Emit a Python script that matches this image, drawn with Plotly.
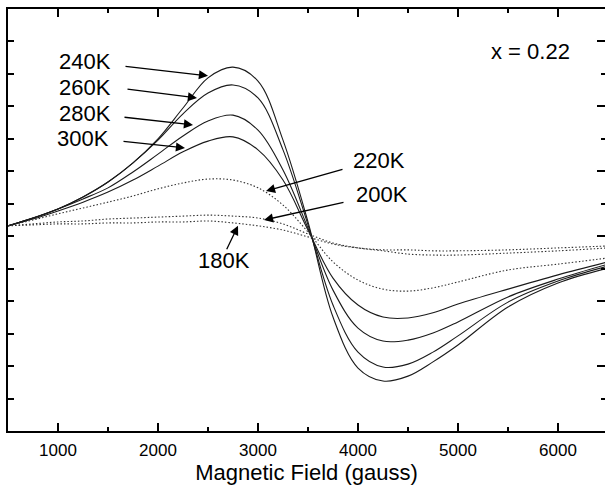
import plotly.graph_objects as go

# Magnetic field (gauss)
field = [500, 750, 1000, 1250, 1500, 1750, 2000, 2250, 2500, 2750, 3000,
         3250, 3500, 3750, 4000, 4250, 4500, 4750, 5000, 5500, 6000, 6500]

# EPR derivative signal (arb. units)
s240 = [6.32, 6.56, 6.84, 7.21, 7.67, 8.26, 9.00, 9.95, 10.88, 11.21, 10.78,
        8.96, 6.44, 3.51, 1.94, 1.54, 1.69, 2.13, 2.65, 3.82, 4.56, 5.02]
s260 = [6.32, 6.56, 6.84, 7.21, 7.67, 8.26, 8.96, 9.77, 10.41, 10.66, 10.26,
        8.66, 6.35, 3.88, 2.43, 1.97, 2.06, 2.43, 2.93, 3.97, 4.62, 5.08]
s280 = [6.32, 6.56, 6.84, 7.15, 7.49, 7.98, 8.53, 9.09, 9.55, 9.73, 9.27,
        8.04, 6.25, 4.34, 3.17, 2.77, 2.80, 3.02, 3.36, 4.13, 4.68, 5.14]
s300 = [6.32, 6.53, 6.78, 7.05, 7.36, 7.73, 8.16, 8.60, 8.93, 9.06, 8.66,
        7.73, 6.19, 4.71, 3.88, 3.51, 3.48, 3.64, 3.91, 4.37, 4.81, 5.21]
s220 = [6.32, 6.50, 6.69, 6.87, 7.05, 7.24, 7.46, 7.64, 7.76, 7.73, 7.49,
        6.96, 6.13, 5.21, 4.65, 4.37, 4.31, 4.41, 4.59, 4.96, 5.14, 5.33]
s200 = [6.32, 6.38, 6.44, 6.47, 6.53, 6.56, 6.59, 6.62, 6.65, 6.62, 6.56,
        6.38, 6.07, 5.79, 5.64, 5.55, 5.45, 5.42, 5.42, 5.48, 5.55, 5.64]
s180 = [6.32, 6.35, 6.38, 6.38, 6.41, 6.41, 6.44, 6.44, 6.47, 6.41, 6.32,
        6.19, 5.98, 5.76, 5.64, 5.58, 5.58, 5.55, 5.55, 5.58, 5.64, 5.70]

solid_series = [("240K", s240), ("260K", s260), ("280K", s280), ("300K", s300)]
dotted_series = [("220K", s220), ("200K", s200), ("180K", s180)]

# label text, text position, arrow tail, arrow tip (data coords)
labels = [
    ("240K", 1270, 11.37, 1660, 11.24, 2500, 10.94),
    ("260K", 1270, 10.57, 1680, 10.54, 2390, 10.26),
    ("280K", 1270, 9.77, 1650, 9.67, 2350, 9.43),
    ("300K", 1250, 9.00, 1640, 8.93, 2270, 8.72),
    ("220K", 4210, 8.32, 3860, 8.07, 3080, 7.39),
    ("200K", 4240, 7.30, 3870, 7.05, 3060, 6.50),
    ("180K", 2660, 5.24, 2680, 5.55, 2800, 6.32),
]
composition = "x = 0.22"

FONT = "Arial, Liberation Sans, sans-serif"
XR = [500, 6470]
YR = [0, 13]

fig = go.Figure()
for name, ys in solid_series:
    fig.add_trace(go.Scatter(x=field, y=ys, mode="lines", name=name,
                             line=dict(color="#1a1a1a", width=1.1, shape="spline", smoothing=1.0),
                             showlegend=False, hoverinfo="skip"))
for name, ys in dotted_series:
    fig.add_trace(go.Scatter(x=field, y=ys, mode="lines", name=name,
                             line=dict(color="#333333", width=1.1, shape="spline", smoothing=1.0,
                                       dash="1.5px,2px"),
                             showlegend=False, hoverinfo="skip"))
# helper trace for the top / right axes
fig.add_trace(go.Scatter(x=[None], y=[None], xaxis="x2", yaxis="y2",
                         showlegend=False, hoverinfo="skip"))

for txt, tx, ty, ax, ay, hx, hy in labels:
    fig.add_annotation(x=tx, y=ty, text=txt, showarrow=False,
                       font=dict(family=FONT, size=22, color="black"))
    fig.add_annotation(x=hx, y=hy, ax=ax, ay=ay, axref="x", ayref="y",
                       text="", showarrow=True, arrowhead=2, arrowsize=1.4,
                       arrowwidth=1.3, arrowcolor="black")
fig.add_annotation(x=5720, y=11.68, text=composition, showarrow=False,
                   font=dict(family=FONT, size=22, color="black"))

fig.update_layout(
    width=605, height=490,
    margin=dict(l=8, r=0, t=9, b=59),
    paper_bgcolor="white", plot_bgcolor="white",
    font=dict(family=FONT, color="black"),
    xaxis=dict(range=XR, showgrid=False, zeroline=False,
               showline=True, linecolor="black", linewidth=2,
               ticks="inside", ticklen=8, tickwidth=1.5, tickcolor="black",
               dtick=1000, tick0=0, ticklabelstandoff=3,
               minor=dict(ticks="inside", ticklen=4, tickwidth=1.5, tickcolor="black", dtick=500),
               tickfont=dict(family=FONT, size=17, color="black"),
               title=dict(text="Magnetic Field (gauss)",
                          font=dict(family=FONT, size=22, color="black"), standoff=2)),
    xaxis2=dict(range=XR, overlaying="x", side="top", anchor="y", showgrid=False,
                zeroline=False, showline=True, linecolor="black", linewidth=2,
                ticks="inside", ticklen=8, tickwidth=1.5, tickcolor="black",
                dtick=1000, tick0=0, showticklabels=False,
                minor=dict(ticks="inside", ticklen=4, tickwidth=1.5, tickcolor="black", dtick=500)),
    yaxis=dict(range=YR, showgrid=False, zeroline=False,
               showline=True, linecolor="black", linewidth=2,
               ticks="inside", ticklen=6, tickwidth=1.5, tickcolor="black",
               dtick=1, tick0=0, showticklabels=False),
    yaxis2=dict(range=YR, overlaying="y", side="right", anchor="x", showgrid=False,
                zeroline=False, showline=False,
                ticks="inside", ticklen=8, tickwidth=1.5, tickcolor="black",
                dtick=2, tick0=0, showticklabels=False,
                minor=dict(ticks="inside", ticklen=4, tickwidth=1.5, tickcolor="black", dtick=1)),
)

fig.write_html("out.html")
